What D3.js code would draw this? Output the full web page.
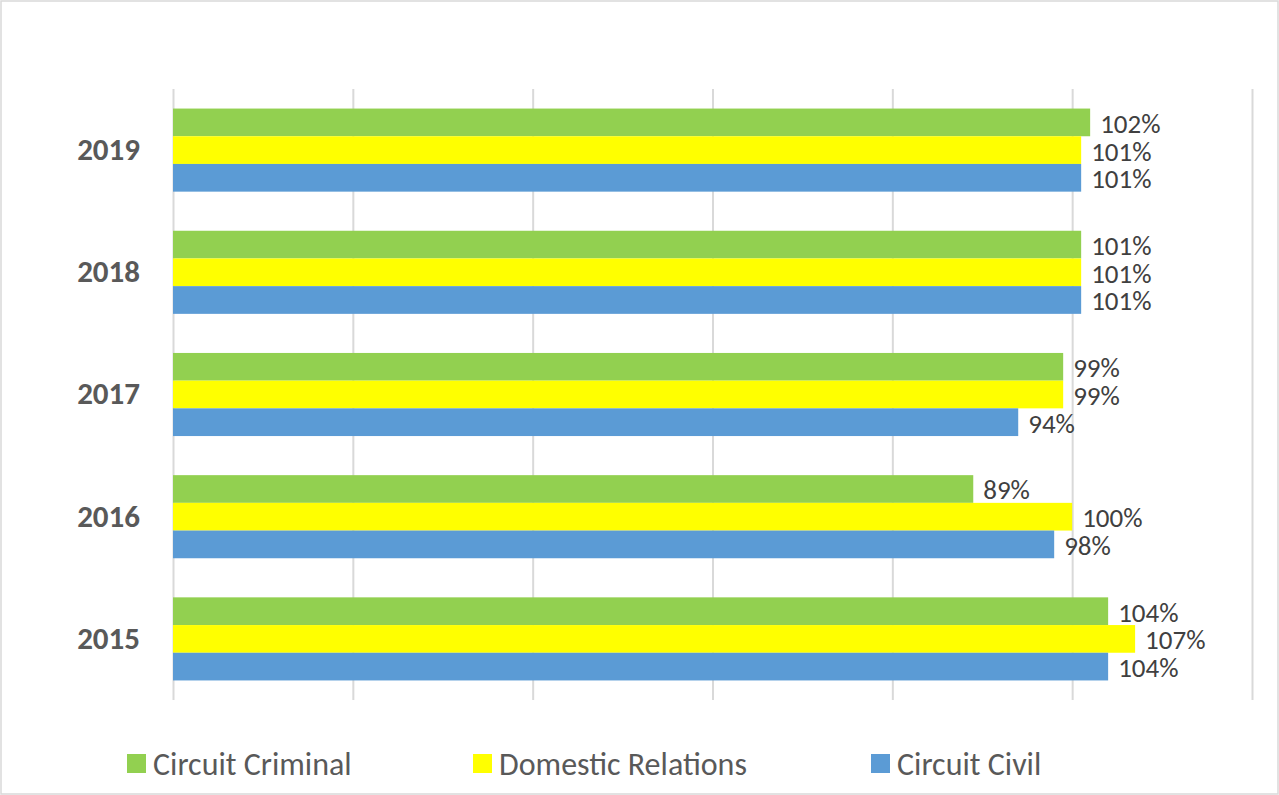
<!DOCTYPE html>
<html><head><meta charset="utf-8">
<script src="https://cdn.jsdelivr.net/npm/d3@7"></script>
<style>body{margin:0;background:#fff;} svg{display:block;font-family:Carlito,Calibri,"Open Sans","Noto Sans",sans-serif;}</style>
</head><body>
<svg id="chart" width="1279" height="795"></svg>
<script>
const years = ["2019", "2018", "2017", "2016", "2015"];
const seriesNames = ["Circuit Criminal", "Domestic Relations", "Circuit Civil"];
const seriesColors = ["#92D050", "#FFFF00", "#5B9BD5"];
const circuitCriminal = [102, 101, 99, 89, 104];
const domesticRelations = [101, 101, 99, 100, 107];
const circuitCivil = [101, 101, 94, 98, 104];
const xTicks = [0, 20, 40, 60, 80, 100, 120];

const seriesValues = [circuitCriminal, domesticRelations, circuitCivil];
const svg = d3.select("#chart");
const W = 1279, H = 795;
svg.append("rect").attr("x", 1).attr("y", 1).attr("width", W - 2).attr("height", H - 2)
  .attr("fill", "#fff").attr("stroke", "#D9D9D9").attr("stroke-width", 1.5);

const m = {left: 173, right: 1252, top: 89, bottom: 700};
const x = d3.scaleLinear().domain([0, 120]).range([m.left, m.right]);
const y0 = d3.scaleBand().domain(years).range([m.top, m.bottom]).paddingInner(0.32).paddingOuter(0.16);
const y1 = d3.scaleBand().domain(seriesNames).range([0, y0.bandwidth()]);

// gridlines
const grid = d3.axisBottom(x).tickValues(xTicks).tickSize(-(m.bottom - m.top)).tickFormat("");
const g = svg.append("g").attr("transform", `translate(0,${m.bottom})`).call(grid);
g.select(".domain").remove();
g.selectAll("line").attr("stroke", "#D9D9D9").attr("stroke-width", 2);

// bars
const groups = svg.selectAll("g.year").data(years).enter().append("g")
  .attr("transform", d => `translate(0,${y0(d)})`);
seriesNames.forEach((s, si) => {
  groups.append("rect")
    .attr("x", x(0))
    .attr("y", y1(s))
    .attr("width", (d, i) => x(seriesValues[si][i]) - x(0))
    .attr("height", y1.bandwidth())
    .attr("fill", seriesColors[si]);
  groups.append("text")
    .attr("x", (d, i) => x(seriesValues[si][i]) + 10)
    .attr("y", y1(s) + y1.bandwidth() / 2 + 1)
    .attr("dy", "0.35em")
    .attr("font-size", 27)
    .attr("fill", "#404040")
    .text((d, i) => seriesValues[si][i] + "%");
});

// category axis
const yAxis = d3.axisLeft(y0).tickSize(0).tickPadding(33);
const ya = svg.append("g").attr("transform", `translate(${m.left},0)`).call(yAxis);
ya.select(".domain").remove();
ya.selectAll("text").attr("font-size", 31).attr("font-weight", "bold").attr("fill", "#595959")
  .attr("font-family", "Carlito,Calibri,'Open Sans','Noto Sans',sans-serif");

// legend
const legendX = [127, 473, 871];
const leg = svg.selectAll("g.leg").data(seriesNames).enter().append("g")
  .attr("transform", (d, i) => `translate(${legendX[i]},754)`);
leg.append("rect").attr("width", 19).attr("height", 19).attr("fill", (d, i) => seriesColors[i]);
leg.append("text").attr("x", 26).attr("y", 10).attr("dy", "0.35em")
  .attr("font-size", 32).attr("fill", "#595959").text(d => d);
</script>
</body></html>
